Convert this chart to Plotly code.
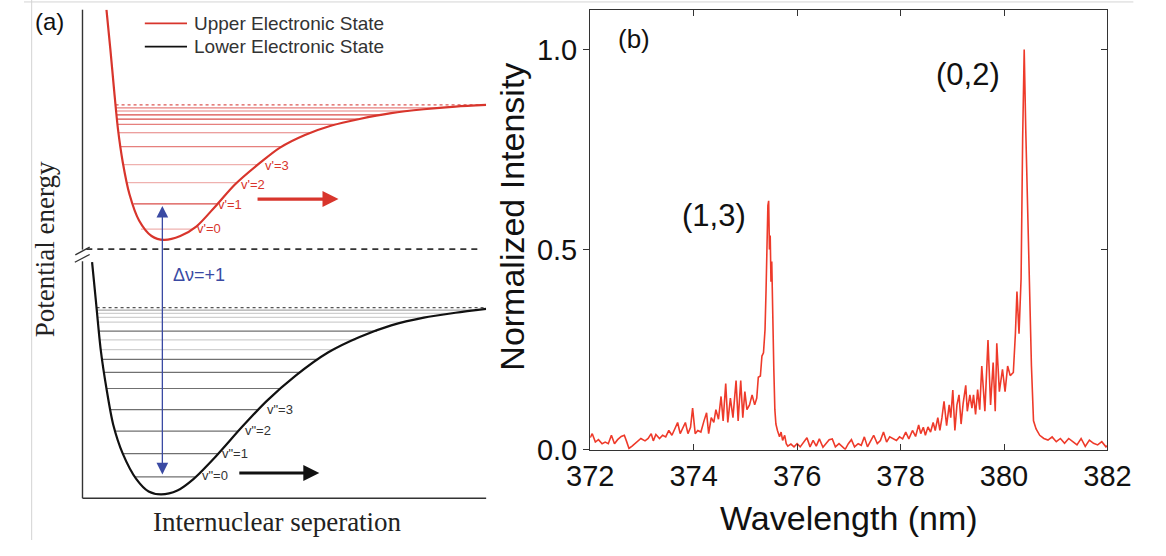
import plotly.graph_objects as go

W, H = 1166, 556

# ---------------- Panel (b): emission spectrum ----------------
wavelength_nm = [
    372.00, 372.04, 372.10, 372.16, 372.23, 372.29, 372.35, 372.41, 372.47, 372.53,
    372.60, 372.66, 372.70, 372.75, 372.81, 372.87, 372.93, 372.98, 373.06, 373.12,
    373.18, 373.22, 373.27, 373.34, 373.40, 373.46, 373.52, 373.58, 373.65, 373.69,
    373.74, 373.80, 373.84, 373.89, 373.94, 373.98, 374.03, 374.08, 374.14, 374.20,
    374.25, 374.29, 374.34, 374.39, 374.43, 374.48, 374.53, 374.57, 374.62, 374.66,
    374.71, 374.76, 374.82, 374.86, 374.91, 374.95, 374.99, 375.03, 375.08, 375.13,
    375.18, 375.22, 375.25, 375.29, 375.32, 375.35, 375.38, 375.40, 375.42, 375.435,
    375.45, 375.465, 375.48, 375.495, 375.51, 375.53, 375.55, 375.57, 375.59, 375.62,
    375.66, 375.69, 375.72, 375.76, 375.79, 375.82, 375.88, 375.94, 376.00, 376.06,
    376.13, 376.19, 376.25, 376.31, 376.37, 376.43, 376.50, 376.56, 376.62, 376.68,
    376.74, 376.81, 376.87, 376.93, 376.99, 377.05, 377.11, 377.18, 377.24, 377.30,
    377.36, 377.42, 377.48, 377.55, 377.61, 377.67, 377.73, 377.79, 377.86, 377.92,
    377.98, 378.04, 378.10, 378.16, 378.23, 378.29, 378.35, 378.39, 378.44, 378.48,
    378.53, 378.58, 378.63, 378.67, 378.72, 378.76, 378.80, 378.84, 378.89, 378.94,
    378.97, 379.01, 379.05, 379.09, 379.13, 379.17, 379.21, 379.26, 379.29, 379.34,
    379.38, 379.41, 379.45, 379.49, 379.53, 379.57, 379.63, 379.69, 379.74, 379.79,
    379.83, 379.86, 379.91, 379.97, 380.02, 380.07, 380.12, 380.18, 380.22, 380.25,
    380.29, 380.33, 380.36, 380.39, 380.42, 380.45, 380.49, 380.53, 380.57, 380.62,
    380.69, 380.77, 380.85, 380.93, 381.01, 381.09, 381.17, 381.25, 381.33, 381.41,
    381.49, 381.57, 381.65, 381.73, 381.81, 381.89, 381.97, 382.00,
]
intensity = [
    0.030, 0.040, 0.019, 0.025, 0.015, 0.019, 0.015, 0.036, 0.015, 0.025,
    0.033, 0.036, 0.022, 0.003, 0.009, 0.015, 0.021, 0.028, 0.022, 0.028,
    0.040, 0.022, 0.038, 0.028, 0.036, 0.032, 0.048, 0.036, 0.056, 0.068,
    0.040, 0.056, 0.068, 0.040, 0.056, 0.104, 0.040, 0.048, 0.044, 0.072,
    0.092, 0.040, 0.080, 0.068, 0.100, 0.076, 0.133, 0.072, 0.165, 0.068,
    0.129, 0.080, 0.173, 0.072, 0.173, 0.080, 0.145, 0.100, 0.112, 0.137,
    0.112, 0.129, 0.181, 0.184, 0.234, 0.242, 0.300, 0.400, 0.540, 0.610,
    0.622, 0.500, 0.535, 0.420, 0.470, 0.300, 0.200, 0.100, 0.064, 0.048,
    0.032, 0.044, 0.023, 0.036, 0.015, 0.009, 0.014, 0.007, 0.015, 0.007,
    0.019, 0.030, 0.007, 0.023, 0.009, 0.027, 0.006, 0.015, 0.025, 0.027,
    0.007, 0.015, 0.007, 0.001, 0.015, 0.025, 0.007, 0.015, 0.011, 0.032,
    0.007, 0.023, 0.036, 0.015, 0.023, 0.044, 0.019, 0.032, 0.027, 0.023,
    0.032, 0.027, 0.044, 0.027, 0.048, 0.033, 0.062, 0.040, 0.056, 0.036,
    0.057, 0.044, 0.068, 0.048, 0.080, 0.048, 0.080, 0.121, 0.060, 0.112,
    0.080, 0.149, 0.048, 0.112, 0.137, 0.064, 0.116, 0.161, 0.096, 0.137,
    0.104, 0.137, 0.088, 0.150, 0.100, 0.209, 0.096, 0.274, 0.112, 0.218,
    0.096, 0.266, 0.145, 0.201, 0.145, 0.209, 0.185, 0.193, 0.290, 0.395,
    0.290, 0.428, 0.777, 1.000, 0.800, 0.620, 0.412, 0.209, 0.072, 0.052,
    0.036, 0.028, 0.024, 0.032, 0.020, 0.028, 0.016, 0.028, 0.020, 0.012,
    0.028, 0.008, 0.024, 0.016, 0.012, 0.020, 0.007, 0.010,
]
x_ticks = [372, 374, 376, 378, 380, 382]
y_ticks = [0.0, 0.5, 1.0]
y_tick_labels = ["0.0", "0.5", "1.0"]
band_labels = ["(1,3)", "(0,2)"]
band_label_nm = [374.40, 379.31]
band_label_int = [0.585, 0.937]

# ---------------- Panel (a): potential-energy schematic (arbitrary units) ----------------
upper_r = [25, 29, 33, 37, 42, 49, 59, 72, 85,
           102, 119, 139, 159, 186, 206, 232, 259, 289, 322, 356, 389, 421]
upper_E = [503, 463, 420, 380, 346, 313, 286, 270, 266,
           270, 280, 301, 323, 346, 361, 374, 383.5, 390.5, 396.5, 400.5, 403.3, 405]
lower_r = [10, 14, 19, 25, 32, 42, 56, 69, 82,
           99, 116, 139, 166, 192, 222, 256, 289, 322, 356, 389, 421]
lower_E = [243, 203, 153, 113, 76, 46, 20, 7, 4,
           8, 20, 43, 73, 100, 126, 150, 166, 178, 186, 191, 195]

upper_level_E = [277, 303, 325, 343.5, 362, 376.3, 385, 390.3, 394.7, 398.7, 402]
upper_level_rl = [61, 53, 46, 42.5, 39.5, 37.5, 36.5, 36, 35.5, 35, 34.7]
upper_level_rr = [114, 141, 161, 183, 208, 238, 265, 288, 312, 340, 373]
upper_level_shade = ["l", "d", "l", "l", "m", "m", "m", "d", "d", "m", "m"]
upper_limit = (405, 34.5, 421)

lower_level_E = [22, 46, 69, 91.3, 113, 129.5, 143, 153, 163, 172, 181.3, 186.3, 190.3, 193.7]
lower_level_rl = [55, 42, 34, 29, 25, 22.5, 20.5, 19, 18, 17.2, 16.3, 15.7, 15.3, 15]
lower_level_rr = [117, 141, 162, 184, 207, 227, 246, 264, 285, 307, 336, 358, 384, 408]
lower_level_shade = ["d", "d", "d", "d", "d", "d", "d", "l", "l", "d", "l", "l", "l", "m"]
lower_limit = (196.3, 14.7, 421)

upper_labels = ["v'=0", "v'=1", "v'=2", "v'=3"]
upper_label_r = [132, 154, 178, 203]
upper_label_E = [278, 302, 323, 343]
lower_labels = ['v"=0', 'v"=1', 'v"=2', 'v"=3']
lower_label_r = [138, 159, 183, 206]
lower_label_E = [23, 46, 70, 91]

RED = "#d8352c"
SPEC = "#ee3a2a"
BLUE = "#3a4aa3"
SANS = "Liberation Sans, Arial, sans-serif"
SERIF = "Liberation Serif, Times New Roman, serif"


def PX(x):
    return x / W


def PY(y):
    return 1 - y / H


fig = go.Figure()

# ---- panel (a) traces ----
upper_cols = {"l": "rgba(216,60,55,0.40)", "m": "rgba(216,60,55,0.65)", "d": "rgba(210,45,40,0.85)"}
lower_cols = {"l": "#cfcfcf", "m": "#a8a8a8", "d": "#707070"}
for E, rl, rr, s in zip(upper_level_E, upper_level_rl, upper_level_rr, upper_level_shade):
    fig.add_trace(go.Scatter(x=[rl, rr], y=[E, E], mode="lines", xaxis="x", yaxis="y",
                             line=dict(color=upper_cols[s], width=1.2), hoverinfo="skip", showlegend=False))
for E, rl, rr, s in zip(lower_level_E, lower_level_rl, lower_level_rr, lower_level_shade):
    fig.add_trace(go.Scatter(x=[rl, rr], y=[E, E], mode="lines", xaxis="x", yaxis="y",
                             line=dict(color=lower_cols[s], width=1.2), hoverinfo="skip", showlegend=False))
fig.add_trace(go.Scatter(x=[upper_limit[1], upper_limit[2]], y=[upper_limit[0]] * 2, mode="lines",
                         xaxis="x", yaxis="y", line=dict(color="rgba(210,45,40,0.8)", width=1.2, dash="dot"),
                         hoverinfo="skip", showlegend=False))
fig.add_trace(go.Scatter(x=[lower_limit[1], lower_limit[2]], y=[lower_limit[0]] * 2, mode="lines",
                         xaxis="x", yaxis="y", line=dict(color="#555", width=1.2, dash="dot"),
                         hoverinfo="skip", showlegend=False))
fig.add_trace(go.Scatter(x=upper_r, y=upper_E, mode="lines", xaxis="x", yaxis="y",
                         line=dict(color=RED, width=2.2, shape="spline", smoothing=0.8),
                         name="Upper Electronic State", showlegend=False))
fig.add_trace(go.Scatter(x=lower_r, y=lower_E, mode="lines", xaxis="x", yaxis="y",
                         line=dict(color="#111111", width=2.2, shape="spline", smoothing=0.8),
                         name="Lower Electronic State", showlegend=False))

# ---- panel (b) traces ----
fig.add_trace(go.Scatter(x=wavelength_nm, y=intensity, mode="lines", xaxis="x2", yaxis="y2",
                         line=dict(color=SPEC, width=1.6), showlegend=False))
fig.add_trace(go.Scatter(x=[x_ticks[0]], y=[None], mode="markers", xaxis="x2", yaxis="y3",
                         marker=dict(opacity=0), hoverinfo="skip", showlegend=False))

ymax_b = 453 / 412
axis_font = dict(family=SANS, size=29, color="#111")
fig.update_layout(
    width=W, height=H, margin=dict(l=0, r=0, t=0, b=0, pad=0),
    paper_bgcolor="white", plot_bgcolor="white", showlegend=False,
    xaxis=dict(domain=[PX(61), PX(482)], range=[0, 421], visible=False, fixedrange=True),
    yaxis=dict(domain=[PY(513), PY(10)], range=[0, 503], visible=False, fixedrange=True),
    xaxis2=dict(domain=[PX(590.5), PX(1130)], range=[372, 382], anchor="y2",
                tickvals=x_ticks, ticks="inside", ticklen=6, tickwidth=1.2, tickcolor="#333",
                showline=True, linecolor="#333", linewidth=1.3, mirror="ticks",
                showgrid=False, zeroline=False, tickfont=axis_font),
    yaxis2=dict(domain=[PY(463), PY(10)], range=[0, ymax_b], anchor="x2",
                tickvals=y_ticks, ticktext=y_tick_labels, ticks="outside", ticklen=6, tickwidth=1.2,
                tickcolor="#333", showline=True, linecolor="#333", linewidth=1.3, mirror=True,
                showgrid=False, zeroline=False, tickfont=axis_font),
    yaxis3=dict(overlaying="y2", side="right", anchor="x2", range=[0, ymax_b],
                tickvals=y_ticks[1:], ticks="inside", ticklen=6, tickwidth=1.2, tickcolor="#333",
                showticklabels=False, showgrid=False, zeroline=False, showline=False),
)

shapes = []


def pline(x0, y0, x1, y1, color="#333", width=1.3, dash=None):
    d = dict(type="line", xref="paper", yref="paper", x0=PX(x0), y0=PY(y0), x1=PX(x1), y1=PY(y1),
             line=dict(color=color, width=width))
    if dash:
        d["line"]["dash"] = dash
    shapes.append(d)


# image borders
pline(8, 0, 8, 556, color="#d4d4d4", width=1)
pline(0, 2, 1157, 2, color="#d4d4d4", width=1)
# panel (a) axes with break
pline(61, 10, 61, 257, color="#333", width=1.4)
pline(61, 269, 61, 513, color="#333", width=1.4)
pline(61, 513, 482, 513, color="#333", width=1.4)
pline(53.5, 262.5, 68.5, 254.5, color="#333", width=1.3)
pline(53, 270, 68.5, 262, color="#333", width=1.3)
# dashed separator
pline(65, 256.5, 476, 256.5, color="#333", width=1.6, dash="6px,5px")
# legend line samples
pline(126, 24, 170, 24, color=RED, width=1.8)
pline(126, 48, 170, 48, color="#111", width=1.8)
fig.update_layout(shapes=shapes)


def ptext(text, x, y, size, color="#111", family=SANS, xanchor="center", angle=0):
    return dict(text=text, xref="paper", yref="paper", x=PX(x), y=PY(y), xanchor=xanchor,
                yanchor="middle", textangle=angle, showarrow=False,
                font=dict(family=family, size=size, color=color))


ann = []
# panel (a) texts
ann.append(ptext("(a)", 26.5, 22, 24))
ann.append(ptext("Upper Electronic State", 175, 24, 19, color="#333", xanchor="left"))
ann.append(ptext("Lower Electronic State", 175, 48, 19, color="#333", xanchor="left"))
ann.append(ptext("Potential energy", 21.5, 257, 27, color="#222", family=SERIF, angle=-90))
ann.append(ptext("Internuclear seperation", 264, 537, 27, color="#222", family=SERIF))
ann.append(ptext("Δν=+1", 153, 283, 18, color=BLUE, xanchor="left"))
for t, r, e in zip(upper_labels, upper_label_r, upper_label_E):
    ann.append(dict(text=t, xref="x", yref="y", x=r, y=e, xanchor="center", yanchor="middle",
                    showarrow=False, font=dict(family=SANS, size=13, color=RED)))
for t, r, e in zip(lower_labels, lower_label_r, lower_label_E):
    ann.append(dict(text=t, xref="x", yref="y", x=r, y=e, xanchor="center", yanchor="middle",
                    showarrow=False, font=dict(family=SANS, size=13, color="#333")))
# arrows
ann.append(dict(text="", xref="x", yref="y", axref="x", ayref="y", x=267, y=308, ax=181, ay=308,
                showarrow=True, arrowhead=2, arrowwidth=3.2, arrowsize=1, arrowcolor=RED, standoff=0))
ann.append(dict(text="", xref="x", yref="y", axref="x", ayref="y", x=247, y=26, ax=162, ay=26,
                showarrow=True, arrowhead=2, arrowwidth=3.2, arrowsize=1, arrowcolor="#111", standoff=0))
ann.append(dict(text="", xref="x", yref="y", axref="x", ayref="y", x=83.3, y=301, ax=83.3, ay=23,
                showarrow=True, arrowhead=2, startarrowhead=2, arrowside="end+start",
                arrowwidth=1.3, arrowsize=1.8, startarrowsize=1.8, arrowcolor=BLUE,
                standoff=0, startstandoff=0))
# panel (b) texts
ann.append(dict(text="(b)", xref="x2", yref="y2", x=372.84, y=1.027, xanchor="center", yanchor="middle",
                showarrow=False, font=dict(family=SANS, size=26, color="#111")))
for t, xv, yv in zip(band_labels, band_label_nm, band_label_int):
    ann.append(dict(text=t, xref="x2", yref="y2", x=xv, y=yv, xanchor="center", yanchor="middle",
                    showarrow=False, font=dict(family=SANS, size=31, color="#111")))
ann.append(ptext("Wavelength (nm)", 860, 533, 34))
ann.append(ptext("Normalized Intensity", 508, 223, 34, angle=-90))
fig.update_layout(annotations=ann)

fig.write_html("out.html",
               post_script="document.body.style.margin='0';document.body.style.overflow='hidden';")
